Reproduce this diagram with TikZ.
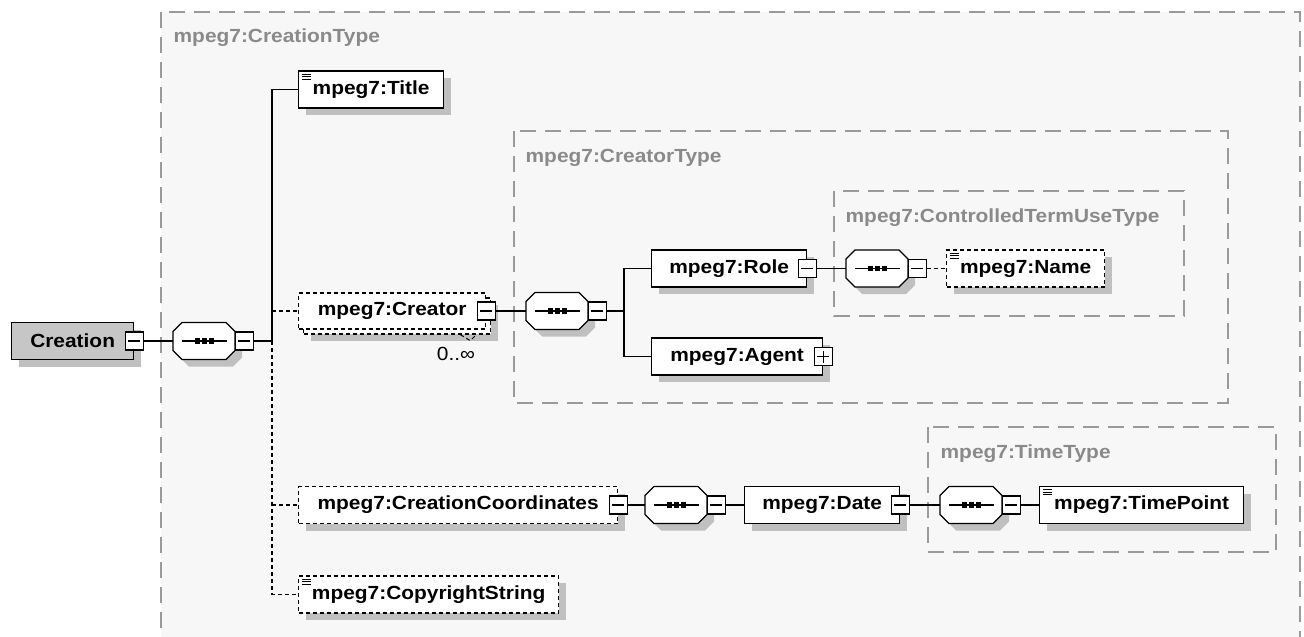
\documentclass[tikz,border=0pt]{standalone}
\usepackage{fontspec}
\setmainfont{Liberation Sans}[FakeStretch=1.1]
\usetikzlibrary{shadows}
\definecolor{framegray}{HTML}{9A9A9A}
\definecolor{titlegray}{HTML}{8A8A8A}
\definecolor{shadegray}{HTML}{C0C0C0}
\definecolor{bggray}{HTML}{F7F7F7}
\definecolor{rootgray}{HTML}{C6C6C6}
\tikzset{
	box/.style={draw,fill=white,minimum height=37pt,minimum width=#1,inner sep=0pt,anchor=west},
	shade/.style={drop shadow={shadow xshift=7pt,shadow yshift=-7pt,fill=shadegray,opacity=1}},
	elem/.style={box=#1,shade},
	opt/.style={dash pattern=on 4pt off 3pt},
	simple/.style={path picture={\foreach \d in {3,5.5,8}
		\draw[solid,line width=.9pt] ([shift={(3,\d)}]path picture bounding box.north west) -- ++(9,0);}},
	seq/.style={minimum width=62pt,minimum height=37pt,inner sep=0pt,anchor=west},
	minus/.style={draw,solid,fill=white,minimum size=18pt,inner sep=0pt,
		path picture={\draw ([xshift=3pt]path picture bounding box.west) -- ([xshift=-3pt]path picture bounding box.east);}},
	plus/.style={draw,solid,fill=white,minimum size=18pt,inner sep=0pt,
		path picture={\draw ([xshift=3pt]path picture bounding box.west) -- ([xshift=-3pt]path picture bounding box.east);
			\draw ([yshift=3pt]path picture bounding box.south) -- ([yshift=-3pt]path picture bounding box.north);}},
	frame/.style={draw=framegray,line width=1.5pt,dash pattern=on 16pt off 9pt},
	frametitle/.style={text=titlegray,anchor=base west,inner sep=0pt}
}

\begin{document}
\begin{tikzpicture}[x=1pt,y=-1pt,line width=1.3pt,every node/.style={font=\fontsize{19}{22}\selectfont\bfseries}]
	\useasboundingbox (0,0) rectangle (1304,637);
	\clip (0,0) rectangle (1304,637);
	\fill[white] (0,0) rectangle (1304,637);
	\draw[frame,fill=bggray] (161,12) rectangle (1300,660);
	\draw[frame] (514,131) rectangle (1228,403);
	\draw[frame] (834,191) rectangle (1184,316);
	\draw[frame] (928,427) rectangle (1276,552);
	\node[frametitle] (creationtype) at (173,42) {mpeg7:CreationType};
	\node[frametitle] (creatortype) at (525,162) {mpeg7:CreatorType};
	\node[frametitle] (termtype) at (845,222) {mpeg7:ControlledTermUseType};
	\node[frametitle] (timetype) at (940,458) {mpeg7:TimeType};

	\node[elem=122pt,fill=rootgray] (creation) at (11,341) {Creation};
	\node[minus] (creationm) at (creation.east) {};
	\node[seq] (seq1) at (173,341) {};
	\coordinate (t1) at (272,341);

	\node[elem=145pt,simple] (title) at (298,89.5) {mpeg7:Title};
	\node[elem=187pt,opt,minimum height=36pt] (creatorback) at (303,316) {};
	\node[box=187pt,opt,minimum height=36pt] (creator) at (298,311) {mpeg7:Creator};
	\node[minus] (creatorm) at (creator.east) {};
	\draw[opt,line width=1pt] ([xshift=-31pt]creatorback.south east) -- ++(10,6) -- ++(6,-6);
	\node[font=\fontsize{19}{22}\selectfont\mdseries] (mult) at (456,354) {0..∞};
	\node[elem=319pt,opt] (cc) at (298,505) {mpeg7:CreationCoordinates};
	\node[minus] (ccm) at (cc.east) {};
	\node[elem=260pt,opt,simple] (copyright) at (298,594.5) {mpeg7:CopyrightString};

	\node[seq] (seq2) at (526,311) {};
	\coordinate (t2) at (624,311);
	\node[elem=155pt] (role) at (651,268.5) {mpeg7:Role};
	\node[minus] (rolem) at (role.east) {};
	\node[elem=171pt] (agent) at (651,356.5) {mpeg7:Agent};
	\node[plus] (agentp) at (agent.east) {};
	\node[seq] (seq3) at (846,268.5) {};
	\node[elem=158pt,opt,simple] (name) at (946,268.5) {mpeg7:Name};

	\node[seq] (seq4) at (645,505) {};
	\node[elem=155pt] (date) at (744,505) {mpeg7:Date};
	\node[minus] (datem) at (date.east) {};
	\node[seq] (seq5) at (940,505) {};
	\node[elem=204pt,simple] (timepoint) at (1039,505) {mpeg7:TimePoint};

	\foreach \s in {seq1,seq2,seq3,seq4,seq5} {
		\fill[shadegray] ([shift={(7,7)}]\s.west) ++(0,-9.5) -- ++(9,-9) -- ++(44,0) -- ++(9,9) -- ++(0,19) -- ++(-9,9) -- ++(-44,0) -- ++(-9,-9) -- cycle;
		\draw[fill=white] (\s.west) ++(0,-9.5) -- ++(9,-9) -- ++(44,0) -- ++(9,9) -- ++(0,19) -- ++(-9,9) -- ++(-44,0) -- ++(-9,-9) -- cycle;
		\draw ([xshift=9pt]\s.west) -- ([xshift=-9pt]\s.east);
		\foreach \d in {-7,0,7} \fill ([xshift=\d pt]\s.center) +(-2.6,-2.6) rectangle +(2.6,2.6);
		\node[minus] (\s-m) at ([xshift=8pt]\s.east) {};
	}

	\draw (creationm.east) -- (seq1.west);
	\draw (seq1-m.east) -- (t1);
	\draw (t1) |- (title.west);
	\draw[opt] (t1) |- (copyright.west);
	\draw[opt] (t1 |- creator.west) -- (creator.west);
	\draw[opt] (t1 |- cc.west) -- (cc.west);
	\draw (creatorm.east) -- (seq2.west);
	\draw (seq2-m.east) -- (t2);
	\draw (t2) |- (role.west);
	\draw (t2) |- (agent.west);
	\draw (rolem.east) -- (seq3.west);
	\draw[opt] (seq3-m.east) -- (name.west);
	\draw (ccm.east) -- (seq4.west);
	\draw (seq4-m.east) -- (date.west);
	\draw (datem.east) -- (seq5.west);
	\draw (seq5-m.east) -- (timepoint.west);
\end{tikzpicture}
\end{document}
